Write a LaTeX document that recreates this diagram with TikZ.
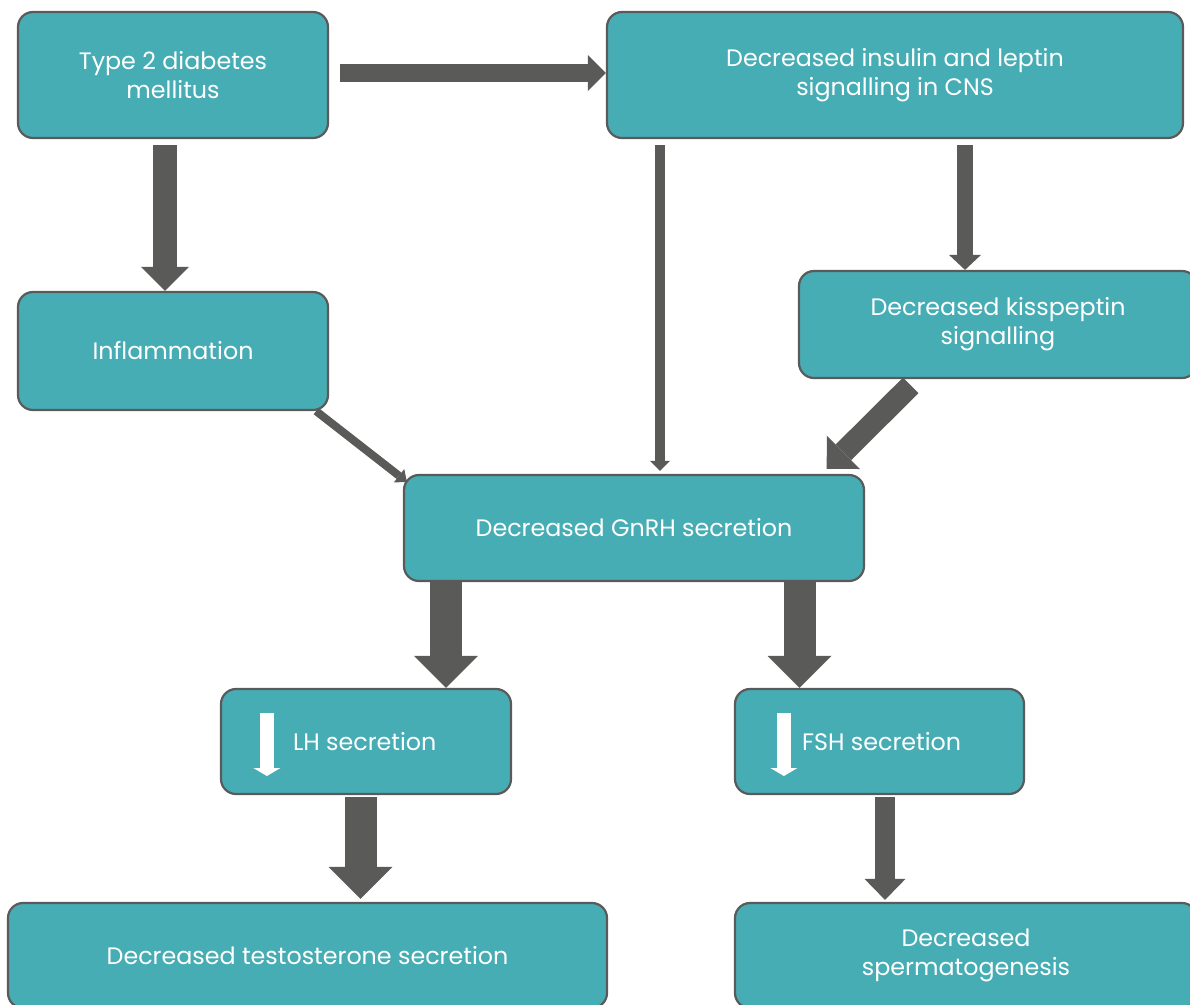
\documentclass[tikz,border=0pt]{standalone}
\usepackage{fontspec}
\setmainfont{Poppins}
\usetikzlibrary{arrows.meta}
\definecolor{tealc}{HTML}{47ADB4}
\definecolor{bordc}{HTML}{5A5A5A}
\definecolor{arrc}{HTML}{5A5A58}
\newcommand\boxfont{\fontsize{23.8}{29}\selectfont}
\begin{document}
\begin{tikzpicture}[x=1pt,y=-1pt,
  box/.style={rectangle, rounded corners=15pt, draw=bordc, line width=2.2pt,
    fill=tealc, text=white, align=center, inner sep=0pt, font=\boxfont},
  lbl/.style={text=white, inner sep=0pt, font=\boxfont},
  blk/.style n args={3}{draw=arrc, line width=#1,
    -{Triangle[width=#2, length=#3, line width=0pt]}},
  wht/.style={draw=white, line width=14pt,
    -{Triangle[width=27pt, length=8pt, line width=0pt]}}]
\useasboundingbox (0,0) rectangle (1190,1004);
\clip (0,0) rectangle (1190,1004);

% boxes
\node[box, minimum width=310pt, minimum height=126pt] (t2dm) at (173,75) {Type 2 diabetes\\mellitus};
\node[box, minimum width=576pt, minimum height=126pt] (cns) at (895,75) {Decreased insulin and leptin\\signalling in CNS};
\node[box, minimum width=310pt, minimum height=118pt] (infl) at (173,351) {Inflammation};
\node[box, minimum width=398pt, minimum height=107pt] (kiss) at (998,324.5) {Decreased kisspeptin\\signalling};
\node[box, minimum width=460pt, minimum height=106pt] (gnrh) at (634,528) {Decreased GnRH secretion};
\node[box, minimum width=290pt, minimum height=105pt] (lh) at (366,741.5) {};
\node[box, minimum width=289pt, minimum height=105pt] (fsh) at (879.5,741.5) {};
\node[box, minimum width=599pt, minimum height=105pt] (testo) at (307.5,955.5) {Decreased testosterone secretion};
\node[box, minimum width=462pt, minimum height=105pt] (sperm) at (966,955.5) {Decreased\\spermatogenesis};

% LH / FSH labels with white down arrows
\node[lbl, anchor=west] (lhtxt) at ([xshift=73pt]lh.west) {LH secretion};
\node[lbl, anchor=west] (fshtxt) at ([xshift=68pt]fsh.west) {FSH secretion};
\draw[wht] ([xshift=47pt,yshift=28.5pt]lh.west) -- ([xshift=47pt,yshift=-34.5pt]lh.west);
\draw[wht] ([xshift=50pt,yshift=28.5pt]fsh.west) -- ([xshift=50pt,yshift=-34.5pt]fsh.west);

% connectors
\draw[blk={18pt}{36pt}{18pt}] ([xshift=11pt,yshift=2pt]t2dm.east) -- ([yshift=2pt]cns.west);
\draw[blk={24pt}{48pt}{24pt}] ([xshift=-8pt,yshift=-6pt]t2dm.south) -- ([xshift=-8pt]infl.north);
\draw[blk={16pt}{32pt}{15pt}] ([xshift=70pt,yshift=-6pt]cns.south) -- ([xshift=-33pt]kiss.north);
\draw[blk={10pt}{20pt}{10pt}] ([xshift=-235pt,yshift=-6pt]cns.south) -- ([xshift=26pt,yshift=3pt]gnrh.north);
\draw[blk={22pt}{47pt}{23.5pt}] ([xshift=-87.3pt,yshift=-6.3pt]kiss.south) -- ([xshift=192.7pt,yshift=5pt]gnrh.north);
\draw[blk={8pt}{17pt}{10pt}] ([xshift=-13pt]infl.south east) -- ([xshift=4pt,yshift=-8pt]gnrh.north west);
\draw[blk={32pt}{64pt}{32pt}] ([xshift=-188pt]gnrh.south) -- ([xshift=80pt]lh.north);
\draw[blk={32pt}{64pt}{32pt}] ([xshift=165.5pt]gnrh.south) -- ([xshift=-80pt]fsh.north);
\draw[blk={32pt}{64pt}{32pt}] ([xshift=-5.5pt,yshift=-2pt]lh.south) -- ([xshift=53pt,yshift=3pt]testo.north);
\draw[blk={20pt}{41pt}{21pt}] ([xshift=5.5pt,yshift=-2pt]fsh.south) -- ([xshift=-81pt,yshift=2pt]sperm.north);
\end{tikzpicture}
\end{document}
